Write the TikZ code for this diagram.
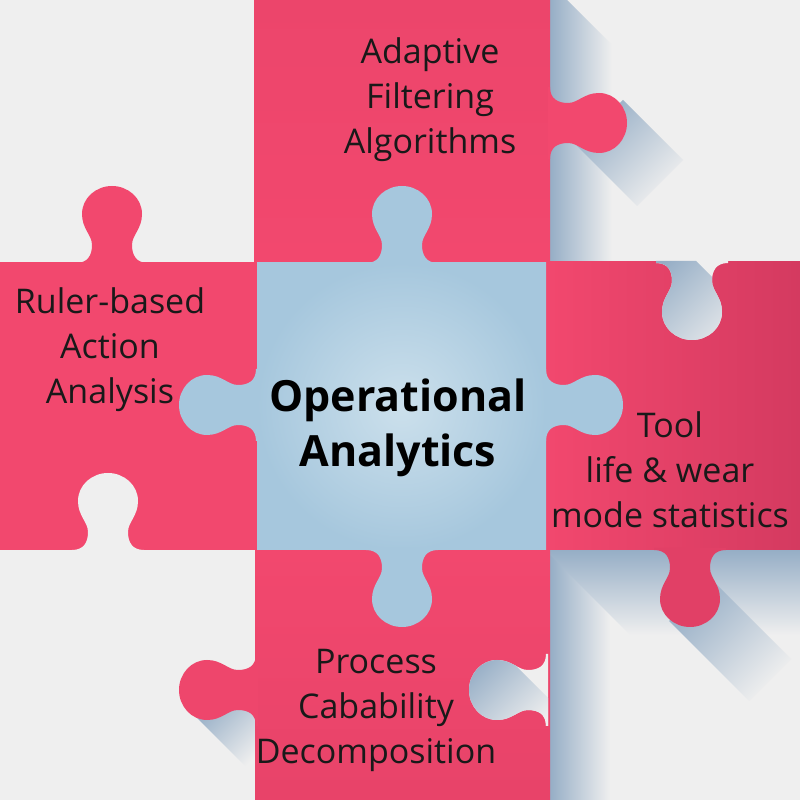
\documentclass[tikz,border=0pt]{standalone}
\usepackage{fontspec}
\setmainfont{Open Sans}
\usepackage{tikz}
\usetikzlibrary{positioning}
\definecolor{bgcolor}{RGB}{239,239,239}
\definecolor{piecepink}{RGB}{242,72,110}
\definecolor{piecedark}{RGB}{212,58,96}
\definecolor{centerblue}{RGB}{166,199,221}
\definecolor{centerlight}{RGB}{204,224,236}
\definecolor{shadowcolor}{RGB}{150,174,198}

% one puzzle knob, pointing up, base centred at the origin
\newcommand{\knobshape}{(-36,-2) -- (-36,0) .. controls (-24,0) and (-20,8) .. (-20,18)
  .. controls (-20,28) and (-30,34) .. (-30,49)
  .. controls (-30,65) and (-16,77) .. (0,77)
  .. controls (16,77) and (30,65) .. (30,49)
  .. controls (30,34) and (20,28) .. (20,18)
  .. controls (20,8) and (24,0) .. (36,0) -- (36,-2) -- cycle}

\begin{document}
\begin{tikzpicture}[
    x=1pt, y=1pt,
    label/.style={align=center, text=black!90, font=\fontsize{34}{45}\selectfont},
    title/.style={align=center, text=black, font=\fontsize{43}{55}\selectfont\bfseries},
    fadeh/.style={left color=shadowcolor, right color=bgcolor},
    fadev/.style={top color=shadowcolor, bottom color=bgcolor},
    faded/.style={top color=shadowcolor, bottom color=bgcolor, shading angle=45}
]
    \useasboundingbox (0,0) rectangle (800,800);
    \fill[bgcolor] (0,0) rectangle (800,800);

    % Long shadows on the background
    \shade[fadeh] (550,800) -- (567,800) -- (612,755) -- (612,536) -- (550,536) -- cycle;
    \shade[faded] (577,654) -- (623,700) -- (683,640) -- (637,594) -- cycle;
    \shade[fadeh] (550,0) rectangle (610,250);
    \shade[fadev] (545,250) -- (800,250) -- (800,165) -- (630,165) -- cycle;
    \shade[faded] (669,179) -- (711,221) -- (791,141) -- (749,99) -- cycle;
    \shade[faded] (190,89) -- (256,23) -- (256,100) -- cycle;

    % Pieces
    \shade[top color=piecepink!80!piecedark, bottom color=piecepink] (254,536) rectangle (550,800);
    \fill[piecepink] (0,250) rectangle (258,538);
    \shade[left color=piecepink, right color=piecedark] (545,250) rectangle (800,538);
    \shade[top color=piecepink, bottom color=piecepink!65!piecedark] (255,0) rectangle (550,250);
    \shade[inner color=centerlight, outer color=centerblue] (257,250) rectangle (546,537);

    % Knobs: x/y/rotation/colour
    \foreach \kx/\ky/\kr/\kc in {402/537/0/centerblue, 256/395/90/centerblue,
        546/395/-90/centerblue, 402/250/180/centerblue,
        550/677/-90/piecepink, 112/537/0/piecepink,
        690/250/180/piecepink!45!piecedark, 256/110/90/piecepink!88!piecedark,
        108/250/0/bgcolor} {
        \fill[\kc, shift={(\kx,\ky)}, rotate=\kr] \knobshape;
    }

    % Empty notches with their shadows
    \begin{scope}
        \clip[shift={(692,537)}, rotate=180] \knobshape;
        \fill[bgcolor] (640,450) rectangle (740,545);
        \shade[faded] (640,545) -- (690,545) -- (760,475) -- (760,450) -- (640,450) -- cycle;
    \end{scope}
    \begin{scope}
        \clip[shift={(546,110)}, rotate=90] \knobshape;
        \fill[bgcolor] (465,70) rectangle (552,150);
        \shade[faded] (465,150) -- (500,150) -- (560,90) -- (560,70) -- (465,70) -- cycle;
    \end{scope}

    % Labels
    \node[label] (filter) at (430,700) {Adaptive\\Filtering\\Algorithms};
    \node[label] (ruler) at (110,450) {Ruler-based\\Action\\Analysis};
    \node[title] (core) at (398,372) {Operational\\Analytics};
    \node[label] (tool) at (670,330) {Tool\\life \& wear\\mode statistics};
    \node[label] (process) at (376,90) {Process\\Cabability\\Decomposition};
\end{tikzpicture}
\end{document}
